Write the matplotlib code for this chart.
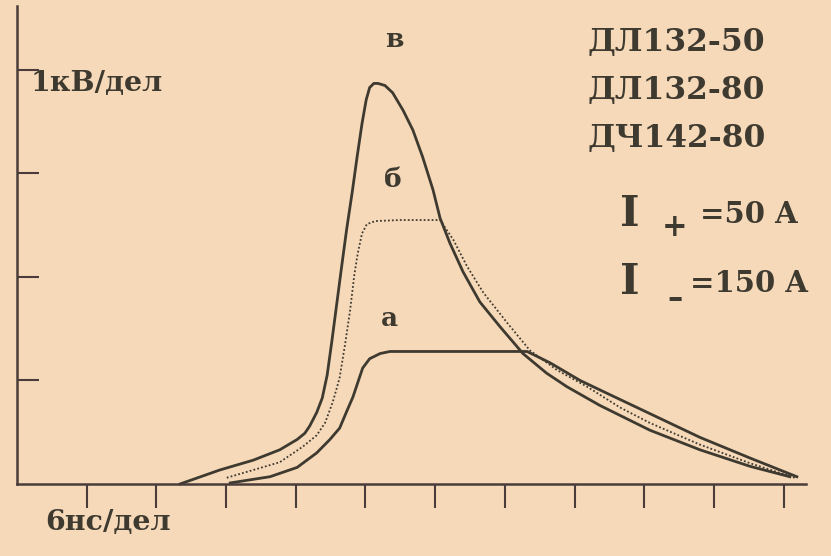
import matplotlib.pyplot as plt

# curve "в" (highest peak), units: divisions (6 ns/div, 1 kV/div)
t_v = [2.34, 2.91, 3.39, 3.77, 4.02, 4.13, 4.20, 4.30, 4.38, 4.45, 4.52, 4.59, 4.66, 4.73,
       4.81, 4.88, 4.95, 5.01, 5.06, 5.12, 5.18, 5.28, 5.39, 5.54, 5.68, 5.82, 5.97, 6.07,
       6.21, 6.40, 6.64, 6.93, 7.26, 7.60, 7.89, 8.36, 9.08, 9.80, 10.52, 11.09]
u_v = [0.00, 0.135, 0.23, 0.33, 0.43, 0.49, 0.56, 0.69, 0.83, 1.05, 1.39, 1.75, 2.11, 2.46,
       2.82, 3.16, 3.48, 3.71, 3.83, 3.87, 3.87, 3.85, 3.78, 3.61, 3.42, 3.16, 2.84, 2.57,
       2.33, 2.05, 1.76, 1.52, 1.26, 1.07, 0.94, 0.76, 0.52, 0.33, 0.17, 0.07]

# curve "б" (dotted, flat top)
t_b = [3.01, 3.39, 3.77, 4.10, 4.30, 4.42, 4.53, 4.59, 4.63, 4.71, 4.78, 4.84, 4.89, 4.95,
       5.02, 5.14, 5.49, 6.07, 6.26, 6.46, 6.69, 7.03, 7.36, 7.75, 8.18, 8.65, 9.08, 9.80,
       10.52, 11.16]
u_b = [0.06, 0.135, 0.21, 0.36, 0.47, 0.59, 0.79, 0.93, 1.03, 1.36, 1.68, 2.02, 2.23, 2.42,
       2.51, 2.54, 2.55, 2.55, 2.36, 2.10, 1.85, 1.56, 1.29, 1.10, 0.94, 0.74, 0.59, 0.38,
       0.20, 0.06]

# curve "а" (lowest flat top)
t_a = [3.06, 3.63, 4.02, 4.30, 4.49, 4.63, 4.73, 4.82, 4.89, 4.96, 5.06, 5.21, 5.35, 7.32,
       7.65, 8.08, 8.36, 9.08, 9.80, 10.52, 11.19]
u_a = [0.01, 0.07, 0.16, 0.30, 0.43, 0.54, 0.70, 0.84, 0.98, 1.12, 1.21, 1.26, 1.28, 1.28,
       1.17, 1.00, 0.91, 0.68, 0.45, 0.25, 0.07]

x_ticks = list(range(1, 12))
y_ticks = [1, 2, 3, 4]
devices = ['ДЛ132-50', 'ДЛ132-80', 'ДЧ142-80']

paper = '#f6d9b9'
ink = '#3e3a30'
axis_ink = '#4a3c3a'

fig = plt.figure(figsize=(8.31, 5.56), dpi=100, facecolor=paper)
ax = fig.add_axes([0, 0, 1, 1], facecolor=paper)
ax.set_xlim(-0.244, 11.68)
ax.set_ylim(-0.696, 4.676)

ax.plot(t_v, u_v, color=ink, lw=2.0, solid_joinstyle='round')
ax.plot(t_b, u_b, color=ink, lw=1.3, linestyle=(0, (1, 1.2)))
ax.plot(t_a, u_a, color=ink, lw=2.0, solid_joinstyle='round')

for s in ['top', 'right']:
    ax.spines[s].set_visible(False)
ax.spines['left'].set_position(('data', 0))
ax.spines['bottom'].set_position(('data', 0))
ax.spines['left'].set_bounds(0, 4.62)
ax.spines['bottom'].set_bounds(0, 11.32)
for s in ['left', 'bottom']:
    ax.spines[s].set_color(axis_ink)
    ax.spines[s].set_linewidth(1.8)

ax.set_xticks(x_ticks)
ax.set_yticks(y_ticks)
ax.set_xticklabels([])
ax.set_yticklabels([])
ax.tick_params(axis='x', direction='out', length=17, width=1.5, color=axis_ink)
ax.tick_params(axis='y', direction='in', length=16, width=1.5, color=axis_ink)

font = dict(family='DejaVu Serif', weight='bold', color=ink)
ax.text(0.19, 3.87, '1кВ/дел', fontsize=20.5, va='center', ha='left', **font)
ax.text(0.40, -0.37, '6нс/дел', fontsize=20.5, va='center', ha='left', **font)

ax.text(5.42, 4.29, 'в', fontsize=19, va='center', ha='center', **font)
ax.text(5.39, 2.94, 'б', fontsize=19, va='center', ha='center', **font)
ax.text(5.35, 1.60, 'а', fontsize=19, va='center', ha='center', **font)

for i, name in enumerate(devices):
    ax.text(8.19, 4.27 - 0.465 * i, name, fontsize=22.5, va='center', ha='left', **font)

ax.text(8.65, 2.61, 'I', fontsize=30, va='center', ha='left', **font)
ax.text(9.43, 2.48, '+', fontsize=22, va='center', ha='center', **font)
ax.text(9.80, 2.60, '=50 A', fontsize=21, va='center', ha='left', **font)

ax.text(8.65, 1.95, 'I', fontsize=30, va='center', ha='left', **font)
ax.text(9.44, 1.78, '–', fontsize=22, va='center', ha='center', **font)
ax.text(9.66, 1.94, '=150 A', fontsize=21, va='center', ha='left', **font)

fig.savefig('out.png', dpi=100, facecolor=paper)
